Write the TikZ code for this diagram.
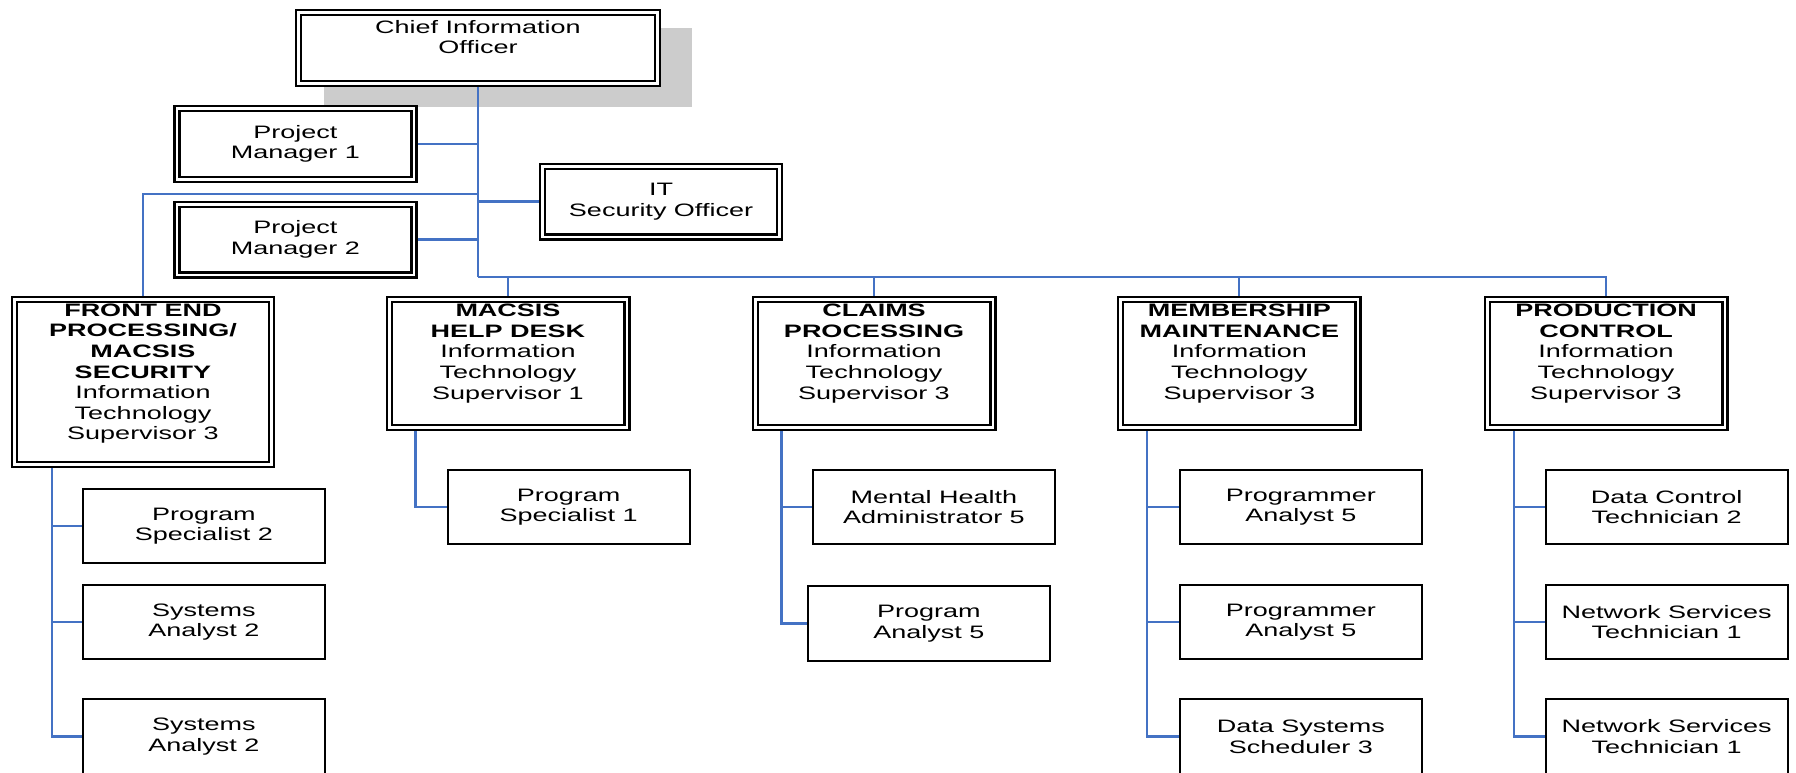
\documentclass[tikz,border=0pt]{standalone}
\usepackage{fontspec}
\setmainfont{Liberation Sans}[FakeStretch=1.5]
\definecolor{lineblue}{RGB}{68,114,196}
\definecolor{shadowgray}{RGB}{204,204,204}
\newcommand{\orgfont}{\fontsize{18}{20.6}\selectfont}
\begin{document}
\begin{tikzpicture}[x=1pt,y=-1pt,
  conn/.style={draw=lineblue, line width=2.3pt},
  dbox/.style={draw=black, double=white, line width=2.4pt, double distance=2.6pt, fill=white, inner sep=0pt, outer sep=3.7pt, align=center, font=\orgfont},
  pmbox/.style={dbox, minimum width=237pt, minimum height=70.6pt},
  supbox/.style={dbox, minimum width=237.6pt, minimum height=127.6pt},
  sbox/.style={draw=black, line width=2pt, fill=white, inner sep=0pt, outer sep=1pt, minimum width=242pt, minimum height=74.6pt, align=center, font=\orgfont},
  txt/.style={inner sep=0pt, align=center, font=\orgfont}]
\useasboundingbox (0,0) rectangle (1796,773);
\clip (0,0) rectangle (1796,773);
\fill[white] (0,0) rectangle (1796,773);
% shadow of the top box
\fill[shadowgray] (324,28) rectangle (692,107);
% top
\node[dbox, minimum width=358.6pt, minimum height=70.6pt] (cio) at (478,48) {};
\node[txt] (ciot) at ([yshift=11pt]cio.center) {Chief Information\\Officer};
\node[pmbox] (pm1) at (295.3,144) {Project\\Manager 1};
\node[pmbox] (pm2) at (295.3,239.5) {Project\\Manager 2};
\node[pmbox] (it) at (661,201.5) {IT\\Security Officer};
% supervisors
\node[dbox, minimum width=256.6pt, minimum height=164.6pt] (fe) at (143,382) {};
\node[txt] (fet) at ([yshift=8.3pt]fe.center) {\textbf{FRONT END}\\\textbf{PROCESSING/}\\\textbf{MACSIS}\\\textbf{SECURITY}\\Information\\Technology\\Supervisor 3};
\node[supbox] (macsis) at (508,363.5) {};
\node[txt] (macsist) at ([yshift=10pt]macsis.center) {\textbf{MACSIS}\\\textbf{HELP DESK}\\Information\\Technology\\Supervisor 1};
\node[supbox] (claims) at (874,363.5) {};
\node[txt] (claimst) at ([yshift=10pt]claims.center) {\textbf{CLAIMS}\\\textbf{PROCESSING}\\Information\\Technology\\Supervisor 3};
\node[supbox] (memb) at (1239.3,363.5) {};
\node[txt] (membt) at ([yshift=10pt]memb.center) {\textbf{MEMBERSHIP}\\\textbf{MAINTENANCE}\\Information\\Technology\\Supervisor 3};
\node[supbox] (prod) at (1606,363.5) {};
\node[txt] (prodt) at ([yshift=10pt]prod.center) {\textbf{PRODUCTION}\\\textbf{CONTROL}\\Information\\Technology\\Supervisor 3};
% staff
\node[sbox] (ps2) at (203.9,526) {Program\\Specialist 2};
\node[sbox] (sa2a) at (203.9,622) {Systems\\Analyst 2};
\node[sbox] (sa2b) at (203.9,736.5) {Systems\\Analyst 2};
\node[sbox] (ps1) at (568.7,507) {Program\\Specialist 1};
\node[sbox] (mha) at (934,507) {Mental Health\\Administrator 5};
\node[sbox] (pa5) at (928.8,623.5) {Program\\Analyst 5};
\node[sbox] (pga) at (1300.8,507) {Programmer\\Analyst 5};
\node[sbox] (pgb) at (1300.8,622) {Programmer\\Analyst 5};
\node[sbox] (dss) at (1300.8,736.5) {Data Systems\\Scheduler 3};
\node[sbox] (dct) at (1666.7,507) {Data Control\\Technician 2};
\node[sbox] (nsa) at (1666.7,622) {Network Services\\Technician 1};
\node[sbox] (nsb) at (1666.7,736.5) {Network Services\\Technician 1};
% connectors
\coordinate (bus) at (478,277.3);
\coordinate (tap) at (478,194.3);
\draw[conn] (cio.south) -- (bus);
\draw[conn] (pm1.east) -- (pm1.east -| cio.south);
\draw[conn] (pm2.east) -- (pm2.east -| cio.south);
\draw[conn] (it.west -| cio.south) -- (it.west);
\draw[conn] (tap) -| (fe.north);
\draw[conn] (bus) -| (macsis.north);
\draw[conn] (bus) -| (claims.north);
\draw[conn] (bus) -| (memb.north);
\draw[conn] (bus) -| (prod.north);
\draw[conn] ([xshift=41pt]fe.south west) |- (ps2.west);
\draw[conn] ([xshift=41pt]fe.south west) |- (sa2a.west);
\draw[conn] ([xshift=41pt]fe.south west) |- (sa2b.west);
\draw[conn] ([xshift=30pt]macsis.south west) |- (ps1.west);
\draw[conn] ([xshift=30pt]claims.south west) |- (mha.west);
\draw[conn] ([xshift=30pt]claims.south west) |- (pa5.west);
\draw[conn] ([xshift=30.5pt]memb.south west) |- (pga.west);
\draw[conn] ([xshift=30.5pt]memb.south west) |- (pgb.west);
\draw[conn] ([xshift=30.5pt]memb.south west) |- (dss.west);
\draw[conn] ([xshift=30.5pt]prod.south west) |- (dct.west);
\draw[conn] ([xshift=30.5pt]prod.south west) |- (nsa.west);
\draw[conn] ([xshift=30.5pt]prod.south west) |- (nsb.west);
\end{tikzpicture}
\end{document}
